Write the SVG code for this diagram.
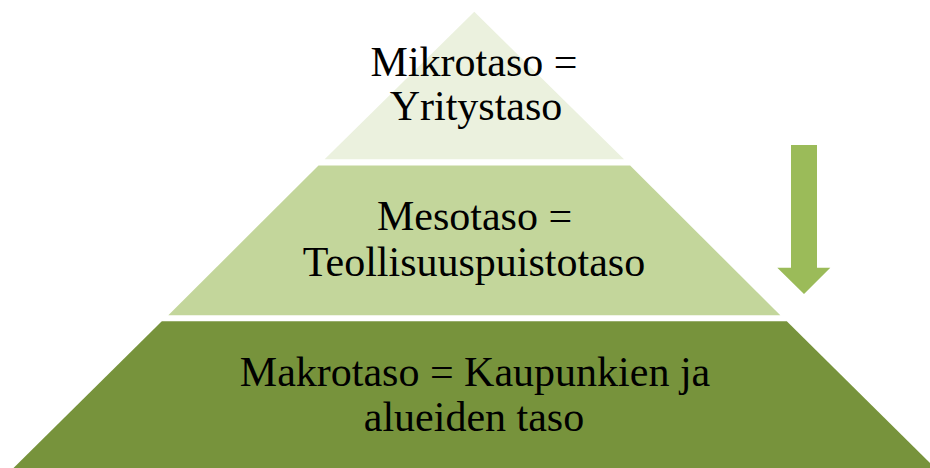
<svg xmlns="http://www.w3.org/2000/svg" width="930" height="468" viewBox="0 0 930 468">
  <style>
    .lbl { font-family: "Liberation Serif", "Times New Roman", serif; font-size: 42px; fill: #000; text-anchor: middle; }
  </style>
  <rect width="930" height="468" fill="#fff"/>
  <g id="tier-micro">
    <polygon points="474.3,11.7 624,159.3 324.6,159.3" fill="#EBF1DE"/>
    <text class="lbl" x="474" y="76">Mikrotaso =</text>
    <text class="lbl" x="476" y="120">Yritystaso</text>
  </g>
  <g id="tier-meso">
    <polygon points="318.5,165.5 630.1,165.5 780.3,315.3 168.3,315.3" fill="#C3D69B"/>
    <text class="lbl" x="474.5" y="230">Mesotaso =</text>
    <text class="lbl" x="474" y="276">Teollisuuspuistotaso</text>
  </g>
  <g id="tier-macro">
    <polygon points="161.8,321.3 786.8,321.3 935,468 13.5,468" fill="#77933C"/>
    <text class="lbl" x="475" y="386">Makrotaso = Kaupunkien ja</text>
    <text class="lbl" x="474" y="431">alueiden taso</text>
  </g>
  <g id="connectors">
    <polygon id="arrow-down" points="791,145 817,145 817,267.7 830.3,267.7 804,294 777.3,267.7 791,267.7" fill="#9BBB59"/>
  </g>
</svg>
